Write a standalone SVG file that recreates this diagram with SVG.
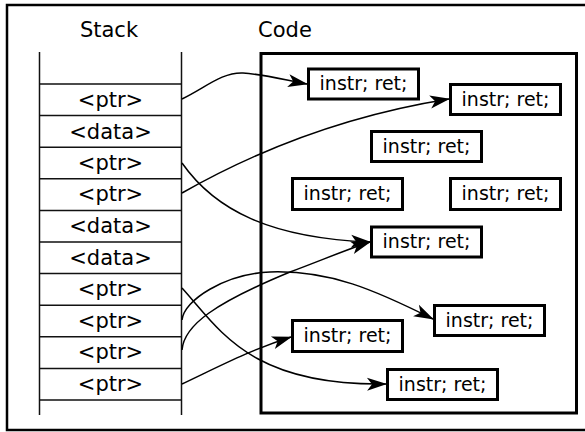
<svg xmlns="http://www.w3.org/2000/svg" width="585" height="432" viewBox="0 0 585 432">
  <style>
    .frame { fill: none; stroke: #000; stroke-width: 2.5; }
    .codebox { fill: none; stroke: #000; stroke-width: 3; }
    .stackline { fill: none; stroke: #111; stroke-width: 1.5; }
    .box rect { fill: #fff; stroke: #000; stroke-width: 3; }
    .label { font-family: "DejaVu Sans", sans-serif; font-size: 21px; fill: #000; text-anchor: middle; }
    .box text { font-family: "DejaVu Sans", sans-serif; font-size: 19px; fill: #000; text-anchor: middle; }
    .conn path { fill: none; stroke: #000; stroke-width: 1.5; marker-end: url(#head); }
  </style>
  <defs>
    <marker id="head" markerUnits="userSpaceOnUse" orient="auto" refX="0" refY="0" markerWidth="26" markerHeight="18" viewBox="-22 -9 26 18" overflow="visible">
      <path d="M1,0 L-19,-6.5 L-14,0 L-19,6.5 Z" fill="#000"/>
    </marker>
  </defs>

  <rect width="585" height="432" fill="#fff"/>
  <!-- outer frame (runs past the right edge) -->
  <rect class="frame" x="7" y="5" width="600" height="425"/>

  <!-- headings -->
  <text class="label" x="109" y="37">Stack</text>
  <text class="label" x="285" y="37">Code</text>

  <!-- stack -->
  <g id="stack">
    <path class="stackline" d="M39.5,52 V415 M181.5,52 V415"/>
    <path class="stackline" d="M39.5,84 H181.5 M39.5,115.6 H181.5 M39.5,147.2 H181.5 M39.5,178.8 H181.5 M39.5,210.4 H181.5 M39.5,242 H181.5 M39.5,273.6 H181.5 M39.5,305.2 H181.5 M39.5,336.8 H181.5 M39.5,368.4 H181.5 M39.5,400 H181.5"/>
    <text class="label" x="110.5" y="106.5">&lt;ptr&gt;</text>
    <text class="label" x="110.5" y="138.5">&lt;data&gt;</text>
    <text class="label" x="110.5" y="169.5">&lt;ptr&gt;</text>
    <text class="label" x="110.5" y="201">&lt;ptr&gt;</text>
    <text class="label" x="110.5" y="233">&lt;data&gt;</text>
    <text class="label" x="110.5" y="264.5">&lt;data&gt;</text>
    <text class="label" x="110.5" y="296">&lt;ptr&gt;</text>
    <text class="label" x="110.5" y="327.5">&lt;ptr&gt;</text>
    <text class="label" x="110.5" y="359">&lt;ptr&gt;</text>
    <text class="label" x="110.5" y="390.5">&lt;ptr&gt;</text>
  </g>

  <!-- code region -->
  <rect class="codebox" x="261" y="53.5" width="315.5" height="359.5"/>

  <g id="gadget1" class="box"><rect x="308.5" y="69" width="110" height="30"/><text x="363.5" y="90">instr; ret;</text></g>
  <g id="gadget2" class="box"><rect x="450.5" y="84.5" width="110" height="30"/><text x="505.5" y="105.5">instr; ret;</text></g>
  <g id="gadget3" class="box"><rect x="371.5" y="131.5" width="110" height="30"/><text x="426.5" y="152.5">instr; ret;</text></g>
  <g id="gadget4" class="box"><rect x="292.5" y="178.5" width="110" height="31"/><text x="347.5" y="200">instr; ret;</text></g>
  <g id="gadget5" class="box"><rect x="450.5" y="178.5" width="110" height="31"/><text x="505.5" y="200">instr; ret;</text></g>
  <g id="gadget6" class="box"><rect x="371.5" y="227" width="110" height="30"/><text x="426.5" y="248">instr; ret;</text></g>
  <g id="gadget7" class="box"><rect x="434.5" y="305.5" width="110" height="30"/><text x="489.5" y="326.5">instr; ret;</text></g>
  <g id="gadget8" class="box"><rect x="292.5" y="320.5" width="110" height="31"/><text x="347.5" y="342">instr; ret;</text></g>
  <g id="gadget9" class="box"><rect x="387.5" y="369.5" width="110" height="30"/><text x="442.5" y="390.5">instr; ret;</text></g>

  <!-- pointers from stack slots to gadgets -->
  <g id="connectors" class="conn">
    <path d="M182,99 C205,88 222,72 243,73 C262,74 285,80 307,84"/>
    <path d="M182,163 C215,210 270,238 370,242"/>
    <path d="M182,193 C240,160 330,118 449,99"/>
    <path d="M182,288 C220,330 250,386 386,384"/>
    <path d="M182,320 C184,300 225,274 270,272 C330,270 375,290 433,319"/>
    <path d="M182,350 C184,325 215,303 290,272 C320,261 345,250 370,242"/>
    <path d="M182,384 C220,366 250,350 291,337"/>
  </g>
</svg>
